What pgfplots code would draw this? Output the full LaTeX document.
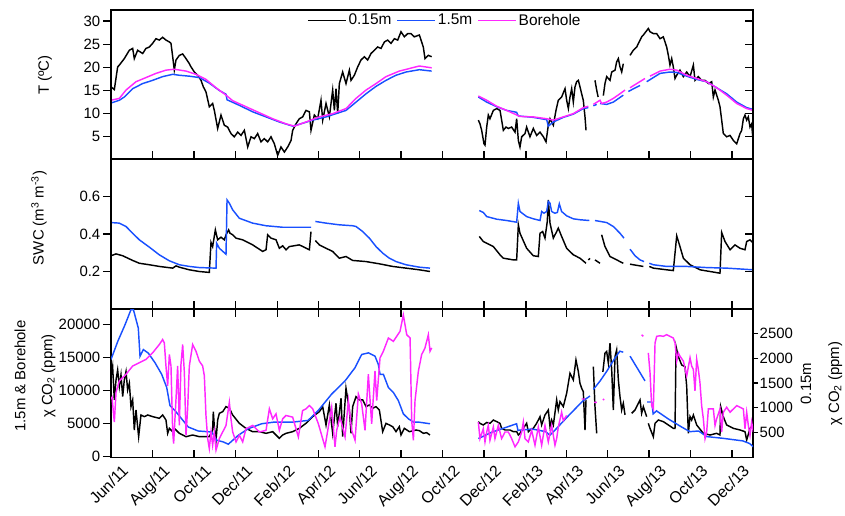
\documentclass[border=0pt]{standalone}
\usepackage{fontspec}
\setmainfont{Liberation Sans}
\usepackage{pgfplots}
\pgfplotsset{compat=1.18}
\definecolor{cblue}{RGB}{25,80,255}
\definecolor{cmag}{RGB}{255,40,255}
\pgfplotsset{
 base/.style={
  scale only axis, width=642bp, xmin=0, xmax=945,
  xtick={0,61,122,183,245,305,366,427,488,549,611,670,731,792,853,914},
  major tick length=8bp,
  axis line style={line width=1.5bp, black},
  every tick/.append style={black, line width=1.3bp},
  /pgf/number format/assume math mode=true,
  /pgf/number format/1000 sep={},
  scaled y ticks=false,
  unbounded coords=jump,
  yticklabel style={inner sep=2.5bp, font=\fontsize{15}{18}\selectfont},
  label style={font=\fontsize{16.5}{20}\selectfont},
 },
 rt/.style={base, hide x axis, ytick pos=right, yticklabels={}, ytick align=inside},
 dl/.style={line width=1.45bp},
}
\begin{document}
\fontsize{15}{18}\selectfont
\begin{tikzpicture}
\path[use as bounding box] (0,0) rectangle (845bp,-516bp);
% ---------------- TOP PANEL ----------------
\begin{axis}[base, at={(111bp,-159bp)}, anchor=south west, height=149bp,
  ymin=0.2, ymax=32.4, ytick={5,10,15,20,25,30}, xticklabels={},
  xtick pos=left, xtick align=inside, ytick pos=left, ytick align=outside,
  every axis y label/.style={at={(rel axis cs:-0.1028,0.5638)}, rotate=90, anchor=center},
  ylabel={T (ºC)},
  legend style={at={(rel axis cs:0.52,0.995)}, anchor=north, draw=none, fill=none,
    font=\fontsize{15.5}{18}\selectfont,
    legend columns=-1, inner sep=1bp, /tikz/every even column/.append style={column sep=3bp}},
  legend image code/.code={\draw[#1] (0bp,0bp) -- (38bp,0bp);}]
\addplot[black, dl] coordinates {
(0,15.8) (4.9,15.2) (9.8,20.1) (12.3,20.5) (19.6,21.9) (27,23.7) (31.9,24.1) (34.3,21.9) (39.2,23.7) (46.6,23.0) (51.5,24.1) (56.4,24.4) (61.3,25.2) (66.2,26.2) (71.1,25.9) (76,26.5) (80.9,25.9) (85.9,25.5) (88.3,25.2) (90.8,22.3) (93.2,19.4) (95.7,21.6) (100.6,22.6) (105.5,22.9) (110.4,21.9) (115.3,20.8) (117.8,20.1) (122.7,19.0) (127.6,18.3) (132.5,17.2) (135.9,15.8) (139.8,14.7) (144.7,11.5) (149.6,12.2) (152.1,10.7) (157,6.8) (161.9,9.7) (166.8,7.5) (171.7,7.1) (176.6,5.7) (181.5,5.0) (186.5,6.0) (191.4,5.3) (196.3,6.4) (201.2,2.8) (206.1,5.0) (211,4.6) (215.9,5.7) (220.8,3.9) (225.7,4.6) (230.6,3.9) (235.5,5.0) (240.4,3.5) (245.3,1.0) (250.2,2.8) (255.2,1.7) (260.1,2.8) (265,4.2) (267.4,6.4) (272.3,7.8) (277.2,8.9) (282.1,9.3) (287,10.7) (292,10.4) (294.4,6.4) (299.3,9.7) (304.2,8.9) (309.1,12.9) (311.6,8.6) (316.5,12.2) (321.4,9.3) (326.3,15.1) (328.8,10.7) (331.2,15.4) (333.7,10.0) (336.1,16.5) (341,19.0) (345.9,16.5) (350.9,19.4) (353.3,17.2) (358.2,18.3) (363.1,20.1) (368,21.6) (372.9,22.3) (377.8,21.6) (382.7,23.0) (387.6,23.7) (392.6,24.4) (397.5,24.1) (402.4,25.5) (407.3,25.9) (412.2,25.2) (417.1,26.2) (422,25.9) (426.9,27.7) (431.8,26.6) (436.7,27.3) (441.6,27.3) (446.5,26.6) (453.9,27.0) (459.7,24.4) (462.2,21.9) (467.1,22.6) (472,22.3)
(500,nan)
(540.7,8.6) (543.1,7.8) (545.6,6.4) (549,3.5) (550.5,3.2) (553,7.1) (555.4,9.7) (557.8,8.9) (562.8,10.7) (567.7,11.1) (572.6,10.7) (575,8.6) (577.5,6.4) (581.4,7.1) (584.8,6.8) (589.7,7.1) (594.7,6.0) (597.1,8.9) (599.6,4.2) (602,2.8) (604.5,5.0) (609.4,5.7) (611.8,7.1) (616.7,5.0) (621.6,6.8) (626.5,5.3) (631.5,6.0) (636.4,5.0) (640.3,3.9) (643.7,7.5) (646.2,8.9) (651.1,7.5) (655,10.7) (658.4,12.9) (663.3,13.6) (668.3,15.4) (670.7,12.9) (673.2,11.1) (675.6,13.6) (678.1,15.4) (680.5,12.5) (683,15.8) (685.4,16.9) (687.9,17.2) (690.3,15.8) (692.8,14.3) (695.2,12.9) (697.7,9.3) (699.2,6.4)
(705,nan)
(712.4,17.2) (714.9,15.1) (717,13.6)
(720,nan)
(724.7,13.9) (727.1,16.5) (729.6,18.0) (734.5,17.2) (737,19.0) (741.9,19.4) (744.3,21.2) (746.8,21.9) (749.2,20.1) (751.7,19.0) (754.1,20.8)
(758,nan)
(764,22.6) (768.8,23.7) (773.8,24.4) (778.7,25.9) (781.1,26.6) (783.6,27.0) (790.9,28.4) (793.4,27.7) (798.3,27.3) (803.2,27.3) (808.1,26.2) (813,26.6) (817.9,24.4) (820.4,22.6) (822.8,20.5) (825.3,21.9) (827.7,20.1) (830.2,17.6) (832.7,18.3) (837.5,19.4) (842.5,18.0) (847.4,19.0) (852.3,18.0) (857.2,20.5) (859.6,17.2) (864.5,18.0) (869.4,17.2) (874.4,17.2) (879.3,16.5) (884.2,16.9) (886.6,13.6) (889.1,15.1) (894,12.9) (896.4,11.5) (898.9,8.6) (901.3,5.7) (906.2,5.0) (911.2,5.3) (916.1,4.2) (921,3.5) (925.9,5.7) (928.3,6.4) (930.8,8.9) (933.2,9.7) (935.7,8.6) (938.1,9.3) (940.6,7.1) (943,7.8) (945.5,3.5)
};
\addlegendentry{0.15m}
\addplot[cblue, dl] coordinates {
(0,12.3) (12.3,12.9) (19.6,13.6) (31.9,15.4) (46.6,16.5) (61.3,17.2) (76,18.0) (90.8,18.5) (100.6,18.3) (115.3,18.1) (130,17.8) (144.7,16.6) (159.5,15.0) (169.3,14.2) (170.8,13.0) (188.9,11.8) (208.5,10.4) (228.2,9.3) (247.8,8.2) (267.4,7.3) (277.2,7.7) (296.9,8.6) (316.5,9.3) (331.2,10.0) (345.9,10.7) (360.7,12.5) (375.4,14.3) (390.1,15.9) (404.8,17.2) (419.5,18.3) (434.3,19.0) (453.9,19.5) (472,19.2)
(500,nan)
(540.7,13.6) (553,12.5) (567.7,11.5) (582.4,10.7) (597,10.3) (599.6,9.5) (621.6,9.2) (641.3,8.7) (643.7,7.3) (651.1,8.2) (665.8,9.2) (680.5,9.9) (695.2,11.1) (702.6,11.3)
(706,nan)
(710,11.7) (714.9,12.0)
(717,nan)
(719.8,12.2) (729.6,12.0) (739.4,12.5) (749.2,13.5) (754.1,14.0)
(758,nan)
(761.5,14.8) (778.7,16.1)
(783,nan)
(788.5,16.9) (808.1,18.7) (822.8,19.0) (832.7,18.9) (847.4,18.1) (862.1,17.4) (876.8,16.9) (891.5,15.6) (906.2,14.3) (921,12.5) (935.7,11.3) (945.5,10.9)
};
\addlegendentry{1.5m}
\addplot[cmag, dl] coordinates {
(0,12.9) (12.3,13.3) (22.1,15.1) (36.8,16.9) (51.5,17.8) (66.2,18.7) (80.9,19.4) (93.2,19.6) (110.4,19.2) (125.1,18.5) (139.8,17.4) (154.6,15.6) (169.3,14.0) (179.1,12.8) (198.7,11.5) (218.3,10.2) (238,8.9) (257.6,7.8) (269.9,7.3) (287,8.2) (306.7,9.3) (326.3,10.0) (345.9,11.1) (360.7,13.3) (375.4,15.1) (390.1,16.5) (404.8,18.0) (424.4,19.2) (453.9,20.3) (472,19.9)
(500,nan)
(540.7,13.8) (553,12.9) (567.7,11.6) (582.4,10.7) (602,9.4) (621.6,9.3) (641.3,8.9) (651.1,8.6) (665.8,9.3) (680.5,10.0) (695.2,11.3) (702.6,11.6)
(706,nan)
(710,12.0) (719.8,12.9) (722.2,12.2) (729.6,12.5) (739.4,13.3) (749.2,14.3) (756.6,15.1)
(760,nan)
(764,15.6) (786,17.6)
(790,nan)
(793.4,18.1) (808.1,19.2) (822.8,19.6) (832.7,19.4) (847.4,18.3) (862.1,17.6) (876.8,16.9) (891.5,15.6) (906.2,14.0) (921,12.2) (935.7,11.1) (945.5,10.7)
};
\addlegendentry{Borehole}
\end{axis}
\begin{axis}[rt, at={(111bp,-159bp)}, anchor=south west, height=149bp,
  ymin=0.2, ymax=32.4, ytick={5,10,15,20,25,30}]
\end{axis}
% ---------------- MIDDLE PANEL ----------------
\begin{axis}[base, at={(111bp,-309bp)}, anchor=south west, height=150bp,
  ymin=0, ymax=0.8, ytick={0.2,0.4,0.6}, xticklabels={},
  yticklabel style={/pgf/number format/fixed, /pgf/number format/precision=1},
  xtick pos=left, xtick align=inside, ytick pos=left, ytick align=outside,
  every axis y label/.style={at={(rel axis cs:-0.1121,0.6067)}, rotate=90, anchor=center},
  ylabel={SWC (m\textsuperscript{3} m\textsuperscript{-3})}]
\addplot[black, dl] coordinates {
(0,0.284) (7.4,0.294) (17.2,0.284) (31.9,0.259) (41.7,0.244) (56.4,0.236) (71.1,0.227) (90.8,0.218) (95.7,0.230) (100.6,0.223) (115.3,0.209) (130,0.2) (144.7,0.195) (147.2,0.355) (149.6,0.333) (153.6,0.422) (157,0.369) (161.9,0.383) (166.8,0.369) (169.3,0.396) (173.2,0.422) (175.2,0.404) (179.1,0.396) (184,0.378) (193.8,0.369) (208.5,0.342) (223.3,0.307) (228.2,0.316) (230.6,0.396) (235.5,0.378) (242.9,0.369) (247.8,0.324) (252.7,0.337) (257.6,0.316) (262.5,0.333) (277.2,0.342) (292,0.316) (294.4,0.413)
(297,nan)
(300.8,0.365) (306.7,0.342) (316.5,0.324) (326.3,0.307) (336.1,0.271) (345.9,0.28) (355.7,0.259) (375.4,0.253) (395,0.241) (414.6,0.227) (434.3,0.218) (453.9,0.209) (469.5,0.2)
(500,nan)
(542.1,0.387) (548,0.36) (553,0.351) (562.8,0.333) (572.6,0.289) (577.5,0.271) (592.2,0.262) (597.1,0.262) (599.6,0.449) (602,0.404) (611.8,0.324) (621.6,0.284) (629,0.28) (631.5,0.404) (635.4,0.413) (638.8,0.378) (642.2,0.467) (643.7,0.582) (646.2,0.458) (651.1,0.378) (656,0.413) (658.4,0.431) (663.3,0.387) (670.7,0.324) (680.5,0.289) (690.3,0.271) (699.2,0.244)
(701,nan)
(702.6,0.262) (705.1,0.27)
(708,nan)
(712.4,0.262) (719.8,0.244)
(721,nan)
(722.2,0.396) (727.1,0.333) (734.5,0.28) (744.3,0.262) (754.1,0.244)
(758,nan)
(764,0.239) (783.6,0.227)
(788,nan)
(792.4,0.227) (798.3,0.218) (817.9,0.209) (827.7,0.205) (832.7,0.39) (837.5,0.333) (842.5,0.271) (852.3,0.236) (867,0.209) (881.7,0.2) (896.4,0.191) (898.9,0.408) (903.8,0.36) (911.2,0.316) (918.5,0.342) (925.9,0.324) (933.2,0.316) (935.7,0.36) (940.6,0.369) (945.5,0.351)
};
\addplot[cblue, dl] coordinates {
(0,0.461) (12.3,0.458) (22.1,0.44) (31.9,0.404) (41.7,0.369) (56.4,0.33) (71.1,0.289) (85.9,0.257) (100.6,0.236) (115.3,0.227) (130,0.221) (154.6,0.218) (155.5,0.351) (159.5,0.324) (169.3,0.292) (170.8,0.582) (174.2,0.564) (179.1,0.529) (188.9,0.484) (208.5,0.458) (228.2,0.444) (252.7,0.436) (294.4,0.436)
(297,nan)
(300.8,0.467) (316.5,0.458) (336.1,0.449) (355.7,0.444) (360.7,0.44) (370.5,0.413) (380.3,0.378) (390.1,0.333) (399.9,0.298) (409.7,0.271) (419.5,0.253) (434.3,0.236) (453.9,0.223) (469.5,0.218)
(500,nan)
(542.1,0.525) (548,0.515) (553,0.493) (567.7,0.479) (582.4,0.472) (597.1,0.463) (599.6,0.564) (602,0.52) (611.8,0.493) (621.6,0.481) (631.5,0.472) (633.9,0.52) (637.3,0.511) (641.3,0.52) (643.7,0.573) (646.2,0.564) (648.6,0.52) (653.5,0.511) (657,0.515) (659.9,0.561) (663.3,0.52) (670.7,0.497) (680.5,0.481) (690.3,0.476) (704.1,0.472)
(708,nan)
(712.4,0.472) (729.6,0.461) (739.4,0.44) (749.2,0.404) (755.1,0.378)
(759,nan)
(764,0.319) (771.3,0.284) (778.7,0.262) (784.6,0.253)
(788,nan)
(792.4,0.244) (798.3,0.236) (817.9,0.227) (847.4,0.227) (876.8,0.221) (906.2,0.218) (945.5,0.209)
};
\end{axis}
\begin{axis}[rt, at={(111bp,-309bp)}, anchor=south west, height=150bp,
  ymin=0, ymax=0.8, ytick={0.2,0.4,0.6}]
\end{axis}
% ---------------- BOTTOM PANEL (right axis: 0.15m) ----------------
\begin{axis}[base, at={(111bp,-457.5bp)}, anchor=south west, height=148.5bp,
  hide x axis, ymin=0, ymax=2990, ytick={500,1000,1500,2000,2500},
  ytick pos=right, yticklabel pos=right, ytick align=outside, major tick length=5bp,
  yticklabel style={inner sep=1.5bp},
  every axis y label/.style={at={(rel axis cs:1.1067,0.498)}, rotate=90, anchor=center, align=center},
  ylabel={0.15m\\[10pt]χ CO\textsubscript{2} (ppm)}]
\addplot[black, dl] coordinates {
(0,1629) (2.4,1831) (4.9,1159) (7.4,1562) (9.8,1763) (12.3,1427) (14.7,1663) (17.2,1226) (19.6,1562) (22.1,1730) (24.5,1360) (27,1495) (29.4,1024) (31.9,1159) (34.3,554) (36.8,957) (39.2,621) (40.7,419) (44.1,856) (49.1,823) (54,856) (61.3,823) (71.1,789) (76,856) (80.9,755) (83.4,487) (85.9,587) (90.8,520) (93.2,587) (100.6,487) (110.4,419) (120.2,453) (130,419) (144.7,419) (149.6,554) (150.6,923) (152.1,621) (154.6,352) (157,755) (159.5,890) (164.4,923) (169.3,1024) (174.2,991) (179.1,856) (188.9,688) (198.7,587) (208.5,520) (218.3,520) (228.2,487) (238,520) (247.8,386) (252.7,453) (257.6,487) (267.4,520) (277.2,587) (287,688) (296.9,823) (306.7,923) (311.6,1024) (316.5,655) (321.4,1058) (326.3,487) (331.2,1091) (333.7,621) (338.6,1192) (341,419) (345.9,1394) (350.9,957) (353.3,487) (355.7,1024) (360.7,1226) (365.6,1159) (370.5,1159) (375.4,1024) (380.3,1058) (385.2,991) (390.1,1024) (395,957) (399.9,520) (404.8,688) (409.7,655) (414.6,621) (419.5,520) (424.4,621) (426.9,453) (431.8,587) (439.2,520) (449,554) (453.9,540) (459.7,487) (464.6,500) (469.5,453)
(500,nan)
(540.7,722) (543.1,688) (548,655) (553,705) (557.8,688) (562.8,755) (567.7,722) (572.6,688) (575,587) (579.9,554) (587.3,554) (592.2,520) (597.1,520) (599.6,453) (602,487) (606.9,587) (611.8,688) (614.3,520) (616.7,554) (621.6,587) (626.5,688) (631.5,823) (633.9,655) (638.8,856) (643.7,957) (646.2,621) (648.6,755) (651.1,655) (656,1159) (658.4,957) (660.9,1125) (665.8,1024) (670.7,1293) (675.6,1696) (680.5,1562) (684.4,1965) (687.9,1730) (690.3,1495) (692.8,1394) (695.2,1327) (697.7,554) (699.2,1159)
(704,nan)
(710,1831) (712.4,1024) (714.9,487)
(720,nan)
(724,1724) (727.1,2100) (729.6,2133) (732.1,1898) (734.5,2301) (737,1763) (739.4,957) (741.9,2032) (744.3,2166) (746.8,1562) (749.2,1226) (751.7,957) (754.1,1091) (756.6,857)
(760,nan)
(766.4,890) (771.3,957) (776.2,1092) (778.7,1159) (781.1,890) (783.6,1024) (788.5,823)
(789.5,nan)
(790.9,688) (793.4,587) (798.3,419) (800.8,688) (805.7,755) (813,722) (820.4,655) (827.7,587) (830.2,587) (831.7,2234) (835.1,2032) (840,1864) (844.9,1831) (847.4,1427) (849.8,487) (852.3,823) (854.7,755) (857.2,856) (862.1,655) (871.9,487) (881.7,453) (891.5,487) (896.4,453) (897.4,1024) (901.3,823) (906.2,655) (916.1,587) (925.9,554) (933.2,520) (935.7,352) (940.6,587) (945.5,655)
};
\end{axis}
% ---------------- BOTTOM PANEL (left axis: 1.5m & Borehole) ----------------
\begin{axis}[base, at={(111bp,-457.5bp)}, anchor=south west, height=148.5bp,
  ymin=-120, ymax=22400, ytick={0,5000,10000,15000,20000},
  xticklabels={Jun/11,Aug/11,Oct/11,Dec/11,Feb/12,Apr/12,Jun/12,Aug/12,Oct/12,Dec/12,Feb/13,Apr/13,Jun/13,Aug/13,Oct/13,Dec/13},
  xticklabel style={font=\fontsize{16}{19}\selectfont, inner sep=0pt, xshift=10bp, yshift=-6bp, rotate=45, anchor=north east},
  xtick pos=both, xtick align=inside, ytick pos=left, ytick align=outside,
  every axis y label/.style={at={(rel axis cs:-0.1184,0.5488)}, rotate=90, anchor=center, align=center},
  ylabel={1.5m \& Borehole\\[9pt]χ CO\textsubscript{2} (ppm)}]
\addplot[cblue, dl] coordinates {
(0,14750) (10,17500) (20.6,20000) (29.4,22300) (33,22300) (40.2,19500) (42.7,15250) (47.6,16250) (55,15700) (64.8,14250) (74.6,12500) (82,10500) (86.8,7750) (94.2,7000) (104,5750) (113.8,4500) (128.5,3900) (148.2,3750) (155.6,2500) (165,2250) (172.7,1900) (187.4,3250) (202,4250) (221.8,5000) (240,5250) (267.4,5250) (290,5500) (305,7000) (324.8,9500) (344.5,11500) (359.2,13500) (369,15500) (378.8,15750) (388.6,15250) (393.5,14000) (396,12500) (400.9,12500) (408.3,10500) (415.6,9750) (423,8500) (430.3,6500) (437.7,5750) (445.1,5250) (452.4,5250) (469.6,5000)
(500,nan)
(540.7,2750) (560,3700) (580,4400) (597,5000) (599,4000) (620,4200) (640,3800) (646,3250) (655,4200) (676,6500) (695,8500) (705,9200)
(708,nan)
(710,10200) (720,11500) (730,13000) (742,15000) (749,16000) (754,15850)
(759,nan)
(764,15250) (786,11500)
(787.5,nan)
(789,8300) (796,8300) (798,6500) (803,6950) (820,5750) (840,4500) (852,3800) (865,3900) (877,3050) (900,2800) (930,2400) (940,2000) (945.5,1500)
};
\addplot[cmag, dl] coordinates {
(0,8760) (1.5,9000) (4.9,5250) (7.4,9760) (12.3,11500) (22.1,12500) (31.9,13760) (41.7,14260) (51.5,14750) (61.3,15760) (71.1,17010) (76,17770) (78.5,17270) (80.9,13760) (83.4,10760) (85.9,15500) (88.3,13760) (90.8,3750) (92.2,2000) (95.7,8760) (98.1,13760) (100.6,4750) (103,14000) (105.5,17010) (108,12760) (110.4,3250) (112.8,7260) (115.3,13760) (120.2,17010) (125.1,16000) (130,14500) (134.9,13760) (137.4,12260) (139.8,6250) (142.3,2750) (144.7,1250) (147.2,3750) (149.6,1750) (152.1,3750) (154.6,1000) (159.5,2750) (169.3,4750) (174.2,8250) (176.6,5750) (179.1,3750) (184,2250) (188.9,3250) (193.8,2250) (198.7,4250) (208.5,4750) (218.3,3750) (228.2,4000) (233.1,7260) (238,5750) (242.9,6500) (247.8,4000) (252.7,5750) (257.6,6250) (267.4,6000) (275.8,3000) (282,7000) (287,7260) (292,7760) (296.9,7260) (305.2,5000) (315,1500) (319.9,4500) (324.8,7500) (329.7,1500) (332.2,4000) (337.1,6000) (344.5,3000) (349.4,8500) (354.3,4000) (359.2,2500) (364.1,9500) (369,8000) (373.9,4000) (378.8,12500) (383.7,5000) (388.6,13000) (391.1,8500) (396,15000) (400.9,16000) (408.3,18000) (415.6,17500) (420.5,18250) (425.4,19000) (430.3,21500) (435.3,18500) (440.2,18000) (442.6,5500) (445.1,2500) (447.5,8500) (452.4,12950) (457.3,15500) (462.2,16500) (467.1,18500) (469.6,16000) (472,16500)
(500,nan)
(540.7,5250) (543.1,2750) (548,4250) (550.5,2250) (553,3750) (555.4,4750) (557.8,2500) (562.8,4500) (565.2,2750) (570.1,4750) (575,2750) (579.9,3750) (584.8,3750) (589.7,2750) (594.7,1500) (599.6,2250) (604.5,3750) (606.9,5250) (609.4,2750) (614.3,2250) (619.2,4000) (624.1,1750) (629,4500) (633.9,1750) (638.8,4750) (643.7,2250) (648.6,4750) (653.5,1750) (656,2750) (658.4,4500) (663.3,6750) (665.8,5500) (670.7,6250)
(680,nan)
(692.8,8750) (697.7,8750)
(700,nan)
(711,8250) (715,8250)
(718,nan)
(724,8750) (726,8600)
(730,nan)
(781.1,18500) (783.6,18250)
(786,nan)
(790.9,15750) (793.4,12750) (795.8,7750) (798.3,7250) (800.8,17250) (803.2,18250) (808.1,18350) (813,18250) (817.9,18500) (822.8,18250) (827.7,18000) (830.2,17250) (832.7,14500) (835.1,15750) (837.5,15250) (842.5,14500) (847.4,12250) (852.3,15000) (854.7,13750) (857.2,13250) (859.6,10000) (862.1,14750) (864.5,13250) (866.9,11250) (869.4,7750) (871.9,5750) (874.4,2750) (876.8,3750) (879.3,7250) (881.7,7250) (886.6,7250) (889.1,4750) (891.5,5750) (896.4,7250) (898.9,3750) (901.3,6750) (906.2,7500) (911.2,6750) (916.1,7250) (921,7750) (925.9,7500) (930.8,7250) (933.2,4250) (935.7,6750) (938.1,4750) (940.6,3250) (943,5250) (945.5,3750)
};
\end{axis}
\end{tikzpicture}
\end{document}
